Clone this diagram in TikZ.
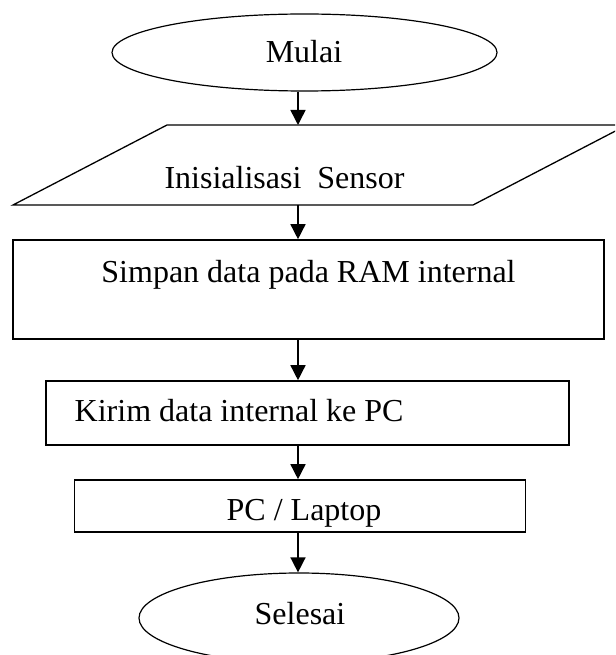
\documentclass[tikz,border=0pt]{standalone}
\usepackage{fontspec}
\setmainfont{Liberation Serif}
\usetikzlibrary{shapes.geometric,arrows.meta}
\begin{document}
\begin{tikzpicture}[x=1pt,y=-1pt,
  lbl/.style={font=\fontsize{32}{38}\selectfont, inner sep=0pt, anchor=base},
  boxnode/.style={draw, line width=1.6pt, inner sep=0pt},
  oval/.style={draw, ellipse, line width=1.2pt, inner sep=0pt},
  para/.style={line width=1.3pt},
  arr/.style={line width=1.5pt, -{Triangle[width=15pt,length=15pt]}}]
\useasboundingbox (0,0) rectangle (615,655);
\clip (0,0) rectangle (615,655);
\coordinate (ax) at (298,0);
% start
\node[oval, minimum width=385pt, minimum height=77pt] (start) at (304.5,52.5) {};
\node[lbl] (tstart) at (304,63) {Mulai};
% input
\draw[para] (13,205) -- (167,125) -- (627,125) -- (473,205) -- cycle;
\coordinate (ptop) at (298,125);
\coordinate (pbot) at (298,205);
\node[lbl] (tinit) at (284.5,188) {Inisialisasi\ \ Sensor};
% process boxes
\node[boxnode, minimum width=591pt, minimum height=99pt] (ram) at (308.5,289.5) {};
\node[lbl] (tram) at (308.5,282) {Simpan data pada RAM internal};
\node[boxnode, minimum width=523pt, minimum height=64pt] (kirim) at (307.5,413) {};
\node[lbl, anchor=base west] (tkirim) at (74.5,421) {Kirim data internal ke PC};
\node[boxnode, minimum width=451pt, minimum height=52pt] (pc) at (300,506) {};
\node[lbl] (tpc) at (304,520) {PC / Laptop};
% end
\node[oval, minimum width=320pt, minimum height=90pt] (stop) at (299,618) {};
\node[lbl] (tstop) at (300,624) {Selesai};
% connectors
\draw[arr] (ax |- start.south) -- (ptop);
\draw[arr] (pbot) -- (ax |- ram.north);
\draw[arr] (ax |- ram.south) -- (ax |- kirim.north);
\draw[arr] (ax |- kirim.south) -- (ax |- pc.north);
\draw[arr] (ax |- pc.south) -- (ax |- stop.north);
\end{tikzpicture}
\end{document}
